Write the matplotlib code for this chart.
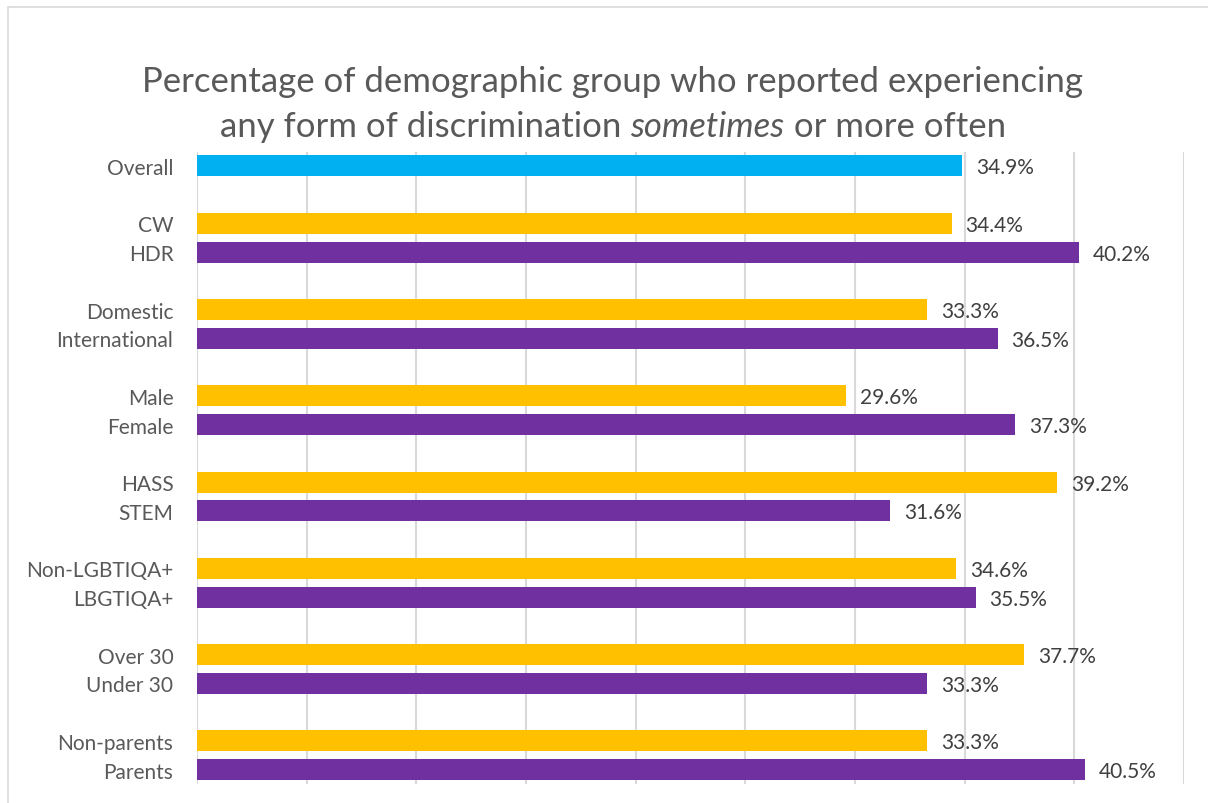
import matplotlib.pyplot as plt
import matplotlib.patches as patches

plt.rcParams['font.family'] = ['Lato', 'DejaVu Sans']

# bars from top to bottom, blank rows keep the groups apart
labels = ['Overall', 'CW', 'HDR', 'Domestic', 'International', 'Male', 'Female',
          'HASS', 'STEM', 'Non-LGBTIQA+', 'LBGTIQA+', 'Over 30', 'Under 30',
          'Non-parents', 'Parents']
values = [34.9, 34.4, 40.2, 33.3, 36.5, 29.6, 37.3, 39.2, 31.6, 34.6, 35.5,
          37.7, 33.3, 33.3, 40.5]
rows = [0, 2, 3, 5, 6, 8, 9, 11, 12, 14, 15, 17, 18, 20, 21]
colors = ['#00B0F0'] + ['#FFC000', '#7030A0'] * 7

W, H = 1208, 804
fig = plt.figure(figsize=(W / 100, H / 100), dpi=100)
ax = fig.add_axes([197 / W, 1 - 785 / H, (1184 - 197) / W, (785 - 152.6) / H])

ax.barh(rows, values, height=0.73, color=colors, zorder=3)
for r, v in zip(rows, values):
    ax.annotate(f'{v}%', (v, r), xytext=(10, -1), textcoords='offset points',
                va='center', ha='left', fontsize=15, color='#404040')

ax.set_xlim(0, 45)
ax.set_ylim(21.5, -0.5)
ax.set_xticks(range(0, 46, 5))
ax.set_xticklabels([])
ax.grid(axis='x', color='#D9D9D9', linewidth=1.5, zorder=0)
ax.tick_params(axis='x', length=0)
ax.set_yticks(rows)
ax.set_yticklabels(labels, fontsize=15, color='#595959')
ax.tick_params(axis='y', length=0, pad=17)
for s in ax.spines.values():
    s.set_visible(False)

# title, second line has an italic word in the middle
tkw = dict(fontsize=25, color='#595959', va='center')
fig.text(613 / W, 1 - 82 / H, 'Percentage of demographic group who reported experiencing',
         ha='center', **tkw)
parts = [('any form of discrimination ', 'normal'), ('sometimes', 'italic'),
         (' or more often', 'normal')]
renderer = fig.canvas.get_renderer()
texts = [fig.text(0, 1 - 127 / H, s, style=st, ha='left', **tkw) for s, st in parts]
widths = [t.get_window_extent(renderer).width for t in texts]
x = 613 - sum(widths) / 2
for t, w in zip(texts, widths):
    t.set_x(x / W)
    x += w

# outer chart border
fig.patches.append(patches.Rectangle((8 / W, -0.01), 1.0, 1 - 8 / H + 0.01,
                                     transform=fig.transFigure, fill=False,
                                     edgecolor='#D9D9D9', linewidth=1.2))

fig.savefig('out.png', dpi=100)
